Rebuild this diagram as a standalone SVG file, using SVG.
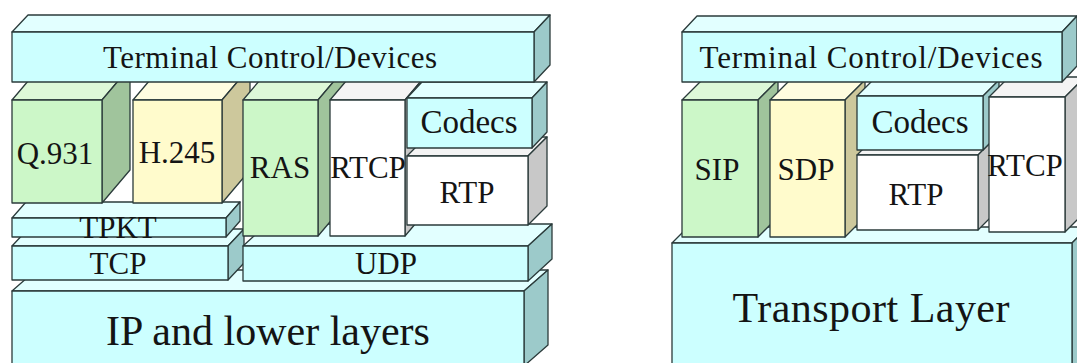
<svg xmlns="http://www.w3.org/2000/svg" width="1077" height="363" viewBox="0 0 1077 363">
  <style>
    .box * { stroke: #2b3b3b; stroke-width: 1.3; stroke-linejoin: round; }
    .cyan .front { fill: #ccffff; } .cyan .top { fill: #e2ffff; } .cyan .side { fill: #9ccaca; }
    .green .front { fill: #ccf7c8; } .green .top { fill: #ddf8d8; } .green .side { fill: #a0c49c; }
    .yellow .front { fill: #fffbcc; } .yellow .top { fill: #fffde0; } .yellow .side { fill: #cdc89c; }
    .white .front { fill: #ffffff; } .white .top { fill: #f4f4f4; } .white .side { fill: #c8c8c8; }
    .box text { font-family: 'Liberation Serif', 'Times New Roman', Tinos, 'Nimbus Roman', serif; font-weight: normal; fill: #141414; stroke: none; text-anchor: middle; }
    .box text.s { font-size: 31px; }
    .box text.l { font-size: 42px; }
  </style>
  <rect width="1077" height="363" fill="#ffffff"/>

  <!-- H.323 stack -->
  <g id="h323">
    <g id="ip-lower" class="box cyan">
      <polygon class="top" points="12,291 36,270 548,270 524,291"/>
      <polygon class="side" points="524,291 548,270 548,345 524,366"/>
      <rect class="front" x="12" y="291" width="512" height="75"/>
      <text class="l" x="268" y="345" font-family="Liberation Serif">IP and lower layers</text>
    </g>
    <g id="tcp" class="box cyan">
      <polygon class="top" points="12,246 28,229 244,229 228,246"/>
      <polygon class="side" points="228,246 244,229 244,263 228,280"/>
      <rect class="front" x="12" y="246" width="216" height="34"/>
      <text class="s" x="118" y="274" font-family="Liberation Serif">TCP</text>
    </g>
    <g id="udp" class="box cyan">
      <polygon class="top" points="243,246 267,224 552,224 528,246"/>
      <polygon class="side" points="528,246 552,224 552,259 528,281"/>
      <rect class="front" x="243" y="246" width="285" height="35"/>
      <text class="s" x="386" y="274" font-family="Liberation Serif">UDP</text>
    </g>
    <g id="tpkt" class="box cyan">
      <polygon class="top" points="12,218 26,202 240,202 226,218"/>
      <polygon class="side" points="226,218 240,202 240,221 226,237"/>
      <rect class="front" x="12" y="218" width="214" height="19"/>
      <text class="s" x="118" y="238" font-family="Liberation Serif">TPKT</text>
    </g>
    <g id="q931" class="box green">
      <polygon class="top" points="12,100 40,67 130,67 102,100"/>
      <polygon class="side" points="102,100 130,67 130,170 102,203"/>
      <rect class="front" x="12" y="100" width="90" height="103"/>
      <text class="s" x="55" y="164" font-family="Liberation Serif">Q.931</text>
    </g>
    <g id="h245" class="box yellow">
      <polygon class="top" points="133,100 161,67 250,67 222,100"/>
      <polygon class="side" points="222,100 250,67 250,170 222,203"/>
      <rect class="front" x="133" y="100" width="89" height="103"/>
      <text class="s" x="177" y="163" font-family="Liberation Serif">H.245</text>
    </g>
    <g id="ras" class="box green">
      <polygon class="top" points="243,100 271,67 346,67 318,100"/>
      <polygon class="side" points="318,100 346,67 346,203 318,236"/>
      <rect class="front" x="243" y="100" width="75" height="136"/>
      <text class="s" x="280" y="178" font-family="Liberation Serif">RAS</text>
    </g>
    <g id="rtcp-h323" class="box white">
      <polygon class="top" points="330,100 358,67 433,67 405,100"/>
      <polygon class="side" points="405,100 433,67 433,203 405,236"/>
      <rect class="front" x="330" y="100" width="75" height="136"/>
      <text class="s" x="368" y="178" font-family="Liberation Serif">RTCP</text>
    </g>
    <g id="rtp-h323" class="box white">
      <polygon class="top" points="407,156 426,137 547,137 528,156"/>
      <polygon class="side" points="528,156 547,137 547,206 528,225"/>
      <rect class="front" x="407" y="156" width="121" height="69"/>
      <text class="s" x="467" y="203" font-family="Liberation Serif">RTP</text>
    </g>
    <g id="codecs-h323" class="box cyan">
      <polygon class="top" points="407,98 422,82 547,82 532,98"/>
      <polygon class="side" points="532,98 547,82 547,132 532,148"/>
      <rect class="front" x="407" y="98" width="125" height="50"/>
      <text class="s" x="469" y="133" font-family="Liberation Serif" style="font-size:33px">Codecs</text>
    </g>
    <g id="terminal-h323" class="box cyan">
      <polygon class="top" points="12,32 28,15 550,15 534,32"/>
      <polygon class="side" points="534,32 550,15 550,65 534,82"/>
      <rect class="front" x="12" y="32" width="522" height="50"/>
      <text class="s" x="270" y="68" font-family="Liberation Serif" textLength="334">Terminal Control/Devices</text>
    </g>
  </g>

  <!-- SIP stack -->
  <g id="sip-stack">
    <g id="transport" class="box cyan">
      <polygon class="top" points="672,243 688,227 1088,227 1072,243"/>
      <polygon class="side" points="1072,243 1088,227 1088,357 1072,373"/>
      <rect class="front" x="672" y="243" width="400" height="130"/>
      <text class="l" x="871" y="322" font-family="Liberation Serif" textLength="277">Transport Layer</text>
    </g>
    <g id="sip" class="box green">
      <polygon class="top" points="682,100 702,80 778,80 758,100"/>
      <polygon class="side" points="758,100 778,80 778,217 758,237"/>
      <rect class="front" x="682" y="100" width="76" height="137"/>
      <text class="s" x="717" y="180" font-family="Liberation Serif">SIP</text>
    </g>
    <g id="sdp" class="box yellow">
      <polygon class="top" points="770,100 790,80 865,80 845,100"/>
      <polygon class="side" points="845,100 865,80 865,217 845,237"/>
      <rect class="front" x="770" y="100" width="75" height="137"/>
      <text class="s" x="806" y="180" font-family="Liberation Serif">SDP</text>
    </g>
    <g id="rtp-sip" class="box white">
      <polygon class="top" points="857,155 871,141 992,141 978,155"/>
      <polygon class="side" points="978,155 992,141 992,216 978,230"/>
      <rect class="front" x="857" y="155" width="121" height="75"/>
      <text class="s" x="916" y="205" font-family="Liberation Serif">RTP</text>
    </g>
    <g id="codecs-sip" class="box cyan">
      <polygon class="top" points="857,96 873,80 999,80 983,96"/>
      <polygon class="side" points="983,96 999,80 999,134 983,150"/>
      <rect class="front" x="857" y="96" width="126" height="54"/>
      <text class="s" x="920" y="133" font-family="Liberation Serif" style="font-size:33px">Codecs</text>
    </g>
    <g id="rtcp-sip" class="box white">
      <polygon class="top" points="989,97 1009,77 1085,77 1065,97"/>
      <polygon class="side" points="1065,97 1085,77 1085,212 1065,232"/>
      <rect class="front" x="989" y="97" width="76" height="135"/>
      <text class="s" x="1025" y="176" font-family="Liberation Serif">RTCP</text>
    </g>
    <g id="terminal-sip" class="box cyan">
      <polygon class="top" points="682,32 697,16 1077,16 1062,32"/>
      <polygon class="side" points="1062,32 1077,16 1077,66 1062,82"/>
      <rect class="front" x="682" y="32" width="380" height="50"/>
      <text class="s" x="871" y="68" font-family="Liberation Serif" textLength="343">Terminal Control/Devices</text>
    </g>
  </g>
</svg>
